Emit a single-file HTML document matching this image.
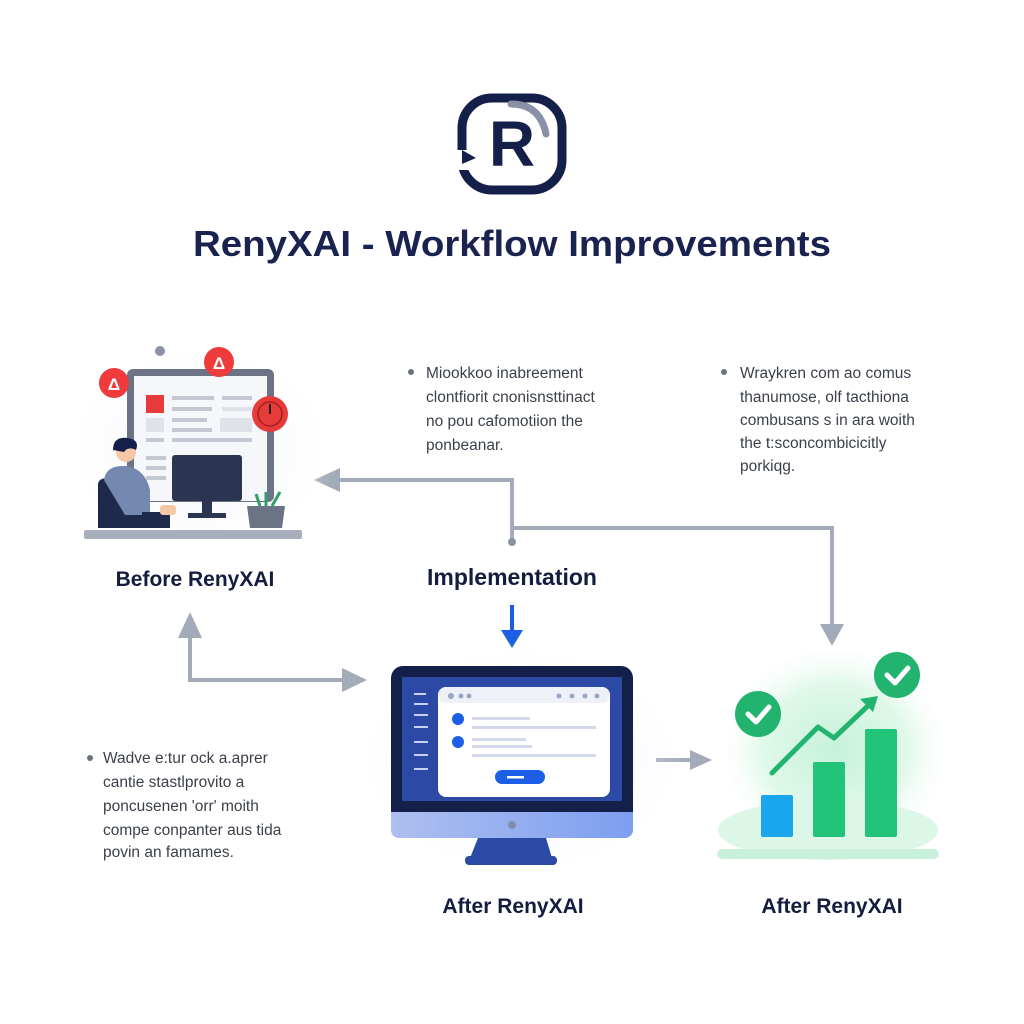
<!DOCTYPE html>
<html><head><meta charset="utf-8"><style>
html,body{margin:0;padding:0;background:#fff}
svg{display:block}
text{font-family:"Liberation Sans",sans-serif}
</style></head><body>
<svg width="1024" height="1024" viewBox="0 0 1024 1024" xmlns="http://www.w3.org/2000/svg">
<defs>
<radialGradient id="gb" cx="0.5" cy="0.5" r="0.5"><stop offset="0" stop-color="#d3defc" stop-opacity="0.9"/><stop offset="1" stop-color="#fff" stop-opacity="0"/></radialGradient>
<radialGradient id="gg" cx="0.5" cy="0.5" r="0.5"><stop offset="0" stop-color="#c6f1d9"/><stop offset="0.6" stop-color="#e0f8ea"/><stop offset="1" stop-color="#fff" stop-opacity="0"/></radialGradient>
<radialGradient id="gs" cx="0.5" cy="0.5" r="0.5"><stop offset="0" stop-color="#e6eaf2"/><stop offset="1" stop-color="#fff" stop-opacity="0"/></radialGradient>
<linearGradient id="mb" x1="0" x2="1"><stop offset="0" stop-color="#aebff0"/><stop offset="1" stop-color="#7d9ef0"/></linearGradient>
</defs>
<rect width="1024" height="1024" fill="#fff"/>

<!-- Logo -->
<rect x="462" y="98" width="100" height="92" rx="30" fill="none" stroke="#15204a" stroke-width="9"/>
<rect x="455" y="150" width="16" height="20" fill="#fff"/>
<path d="M462 150 L476 158 L462 164 Z" fill="#15204a"/>
<path d="M511 104 Q540 104 546 134" fill="none" stroke="#8a90a6" stroke-width="7" stroke-linecap="round"/>
<text x="512" y="166" font-size="64" font-weight="bold" fill="#15204a" text-anchor="middle">R</text>

<text x="512" y="256" font-size="36" font-weight="bold" fill="#1a2350" text-anchor="middle" textLength="638" lengthAdjust="spacingAndGlyphs">RenyXAI - Workflow Improvements</text>

<!-- Text blocks -->
<g font-size="15.5" fill="#3a3f4a">
<circle cx="411" cy="372" r="3" fill="#6b7280"/>
<text x="426" y="378">Miookkoo inabreement</text>
<text x="426" y="402">clontfiorit cnonisnsttinact</text>
<text x="426" y="426">no pou cafomotiion the</text>
<text x="426" y="450">ponbeanar.</text>
<circle cx="724" cy="372" r="3" fill="#6b7280"/>
<text x="740" y="378">Wraykren com ao comus</text>
<text x="740" y="402">thanumose, olf tacthiona</text>
<text x="740" y="425">combusans s in ara woith</text>
<text x="740" y="448">the t:sconcombicicitly</text>
<text x="740" y="471">porkiqg.</text>
<circle cx="90" cy="758" r="3" fill="#6b7280"/>
<text x="103" y="763">Wadve e:tur ock a.aprer</text>
<text x="103" y="787">cantie stastlprovito a</text>
<text x="103" y="811">poncusenen 'orr' moith</text>
<text x="103" y="835">compe conpanter aus tida</text>
<text x="103" y="857">povin an famames.</text>
</g>

<!-- Connectors -->
<g stroke="#a3aab8" stroke-width="4" fill="none">
<polyline points="512,540 512,480 338,480"/>
<polyline points="512,528 832,528 832,628"/>
<polyline points="190,632 190,680 348,680"/>
<line x1="656" y1="760" x2="692" y2="760"/>
</g>
<g fill="#a3aab8">
<path d="M314 480 L340 468 L340 492 Z"/>
<path d="M832 646 L820 624 L844 624 Z"/>
<path d="M190 612 L178 638 L202 638 Z"/>
<path d="M367 680 L342 668 L342 692 Z"/>
<path d="M712 760 L690 750 L690 770 Z"/>
</g>
<circle cx="512" cy="542" r="4" fill="#8a92a3"/>
<line x1="512" y1="605" x2="512" y2="632" stroke="#1c5fe6" stroke-width="4"/>
<path d="M512 648 L501 630 L523 630 Z" fill="#1c5fe6"/>

<!-- Left illustration -->
<ellipse cx="200" cy="450" rx="140" ry="110" fill="url(#gs)"/>
<circle cx="160" cy="351" r="5" fill="#8a92a3"/>
<rect x="127" y="369" width="147" height="133" rx="6" fill="#6b7385"/>
<rect x="134" y="376" width="133" height="125" fill="#f6f7fa"/>
<rect x="146" y="395" width="18" height="18" fill="#e53b3b"/>
<g fill="#c3c8d2">
<rect x="172" y="396" width="42" height="4"/><rect x="222" y="396" width="30" height="4"/>
<rect x="172" y="407" width="40" height="4"/><rect x="222" y="407" width="30" height="4" fill="#dde1e8"/>
<rect x="146" y="418" width="18" height="14" fill="#dfe2e8"/><rect x="172" y="418" width="35" height="4"/>
<rect x="172" y="428" width="40" height="4"/><rect x="220" y="418" width="32" height="14" fill="#dfe2e8"/>
<rect x="146" y="438" width="18" height="4"/><rect x="172" y="438" width="80" height="4"/>
<rect x="146" y="456" width="20" height="4"/><rect x="146" y="466" width="20" height="4"/><rect x="146" y="476" width="20" height="4"/>
</g>
<circle cx="114" cy="383" r="15" fill="#ef3b3b"/><text x="114" y="390" font-size="17" font-weight="bold" fill="#fff" text-anchor="middle">Δ</text>
<circle cx="219" cy="362" r="15" fill="#ef3b3b"/><text x="219" y="369" font-size="17" font-weight="bold" fill="#fff" text-anchor="middle">Δ</text>
<circle cx="270" cy="414" r="18" fill="#e53b3b"/><circle cx="270" cy="414" r="12" fill="none" stroke="#a81d1d" stroke-width="1.5"/><line x1="270" y1="414" x2="270" y2="404" stroke="#222" stroke-width="2"/>
<rect x="172" y="455" width="70" height="46" rx="3" fill="#2b3552"/>
<rect x="202" y="500" width="10" height="14" fill="#2b3552"/><rect x="188" y="513" width="38" height="5" fill="#2b3552"/>
<path d="M98 485 Q98 478 108 478 L132 478 Q142 478 142 490 L142 528 L98 528 Z" fill="#1e2a4c"/>
<path d="M104 480 Q106 465 125 466 Q145 468 150 490 L150 515 L125 515 Z" fill="#7488b0"/>
<rect x="142" y="512" width="28" height="16" fill="#1e2a4c"/>
<rect x="160" y="505" width="16" height="10" rx="3" fill="#f4c8a6"/>
<circle cx="126" cy="452" r="10" fill="#f4c8a6"/>
<path d="M113 450 Q113 436 128 438 Q140 440 136 450 Q128 446 124 452 Z" fill="#15204a"/>
<path d="M247 506 L285 506 L282 528 L250 528 Z" fill="#6b7385"/>
<g stroke="#2e9f6a" stroke-width="3"><line x1="260" y1="506" x2="256" y2="494"/><line x1="266" y1="506" x2="266" y2="492"/><line x1="272" y1="506" x2="280" y2="492"/></g>
<rect x="84" y="530" width="218" height="9" rx="2" fill="#a8aebb"/>

<text x="195" y="586" font-size="21" font-weight="bold" fill="#141c3f" text-anchor="middle">Before RenyXAI</text>
<text x="512" y="585" font-size="23" font-weight="bold" fill="#141c3f" text-anchor="middle">Implementation</text>

<!-- Center monitor -->
<ellipse cx="520" cy="760" rx="170" ry="120" fill="url(#gb)"/>
<rect x="391" y="666" width="242" height="160" rx="12" fill="#14204a"/>
<rect x="402" y="677" width="220" height="124" fill="#2c4aa5"/>
<rect x="391" y="812" width="242" height="26" rx="8" fill="url(#mb)"/>
<rect x="391" y="812" width="242" height="8" fill="url(#mb)"/>
<circle cx="512" cy="825" r="4" fill="#7f8ab0"/>
<path d="M478 838 L546 838 L552 858 L470 858 Z" fill="#2c4aa5"/>
<rect x="465" y="856" width="92" height="9" rx="4" fill="#2c4aa5"/>
<g fill="#c8d2f0"><rect x="414" y="693" width="12" height="2"/><rect x="414" y="703" width="14" height="2"/><rect x="414" y="714" width="14" height="2"/><rect x="414" y="726" width="14" height="2"/><rect x="414" y="741" width="14" height="2"/><rect x="414" y="754" width="14" height="2"/><rect x="414" y="768" width="14" height="2"/></g>
<rect x="438" y="687" width="172" height="110" rx="8" fill="#fff"/>
<rect x="438" y="687" width="172" height="16" rx="8" fill="#eef1f8"/>
<g fill="#9aa6c8"><circle cx="451" cy="696" r="3"/><circle cx="461" cy="696" r="2.5"/><circle cx="469" cy="696" r="2.5"/><circle cx="559" cy="696" r="2.5"/><circle cx="572" cy="696" r="2.5"/><circle cx="585" cy="696" r="2.5"/><circle cx="597" cy="696" r="2.5"/></g>
<circle cx="458" cy="719" r="6" fill="#1c5fe6"/><circle cx="458" cy="742" r="6" fill="#1c5fe6"/>
<g fill="#d3d9ea"><rect x="472" y="717" width="58" height="3"/><rect x="472" y="726" width="124" height="3"/><rect x="472" y="738" width="54" height="3"/><rect x="472" y="745" width="60" height="3"/><rect x="472" y="754" width="124" height="3"/></g>
<rect x="495" y="770" width="50" height="14" rx="7" fill="#1c5fe6"/>
<rect x="507" y="776" width="17" height="2.5" fill="#fff"/>
<text x="513" y="913" font-size="21" font-weight="bold" fill="#141c3f" text-anchor="middle">After RenyXAI</text>

<!-- Right chart -->
<ellipse cx="835" cy="750" rx="120" ry="110" fill="url(#gg)"/>
<ellipse cx="828" cy="830" rx="110" ry="30" fill="#dcf6e7"/>
<rect x="717" y="849" width="222" height="10" rx="5" fill="#c9f0da"/>
<rect x="761" y="795" width="32" height="42" rx="2" fill="#1aa6ef"/>
<rect x="813" y="762" width="32" height="75" rx="2" fill="#22c47a"/>
<rect x="865" y="729" width="32" height="108" rx="2" fill="#22c47a"/>
<polyline points="772,773 818,727 834,738 872,702" fill="none" stroke="#22b46e" stroke-width="5" stroke-linecap="round" stroke-linejoin="round"/>
<path d="M878 696 L860 699 L873 712 Z" fill="#22b46e"/>
<circle cx="758" cy="714" r="23" fill="#22b46e"/>
<path d="M748 714 L756 722 L769 707" fill="none" stroke="#fff" stroke-width="5" stroke-linecap="round" stroke-linejoin="round"/>
<circle cx="897" cy="675" r="23" fill="#22b46e"/>
<path d="M887 675 L895 683 L908 668" fill="none" stroke="#fff" stroke-width="5" stroke-linecap="round" stroke-linejoin="round"/>
<text x="832" y="913" font-size="21" font-weight="bold" fill="#141c3f" text-anchor="middle">After RenyXAI</text>
</svg>
</body></html>
